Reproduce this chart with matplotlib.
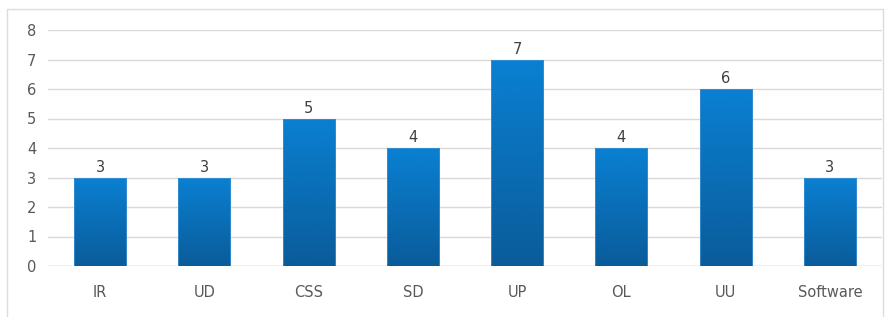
import numpy as np
import matplotlib.pyplot as plt
from matplotlib.colors import LinearSegmentedColormap
from matplotlib.patches import Rectangle

categories = ['IR', 'UD', 'CSS', 'SD', 'UP', 'OL', 'UU', 'Software']
values = [3, 3, 5, 4, 7, 4, 6, 3]
yticks = [0, 1, 2, 3, 4, 5, 6, 7, 8]

W, H = 888, 317
fig = plt.figure(figsize=(W / 100, H / 100), dpi=100)
# chart frame, runs off the bottom of the picture
fig.patches.append(Rectangle((7 / W, -10 / H), 876 / W, 318 / H, transform=fig.transFigure,
                             fill=False, edgecolor='#dcdcdc', linewidth=1))
ax = fig.add_axes([48 / W, 51 / H, 834 / W, 236 / H])

grad = LinearSegmentedColormap.from_list('blu', ['#0a5c9a', '#0a80d2'])
x = np.arange(len(categories))
bars = ax.bar(x, values, width=0.5, color='none', edgecolor='#3a8fd0', linewidth=0.6, zorder=3)
g = np.linspace(0, 1, 256).reshape(-1, 1)
for b in bars:
    bx, by = b.get_x(), b.get_y()
    bw, bh = b.get_width(), b.get_height()
    im = ax.imshow(g, cmap=grad, origin='lower', aspect='auto',
                   extent=[bx, bx + bw, by, by + bh], zorder=2)
    im.set_clip_path(b)
    ax.text(bx + bw / 2, bh + 0.1, str(int(bh)), ha='center', va='bottom',
            fontsize=10.5, color='#404040')

ax.set_xlim(-0.5, len(categories) - 0.5)
ax.set_ylim(0, 8)
ax.set_yticks(yticks)
ax.set_xticks(x)
ax.set_xticklabels(categories)
ax.tick_params(length=0, labelsize=10.5, labelcolor='#595959')
ax.tick_params(axis='x', pad=14)
ax.tick_params(axis='y', pad=8.5)
ax.yaxis.grid(True, color='#d9d9d9', linewidth=1)
ax.set_axisbelow(True)
for s in ax.spines.values():
    s.set_visible(False)
ax.axhline(0, color='#d9d9d9', linewidth=1, zorder=1)

fig.savefig('out.png', dpi=100)
